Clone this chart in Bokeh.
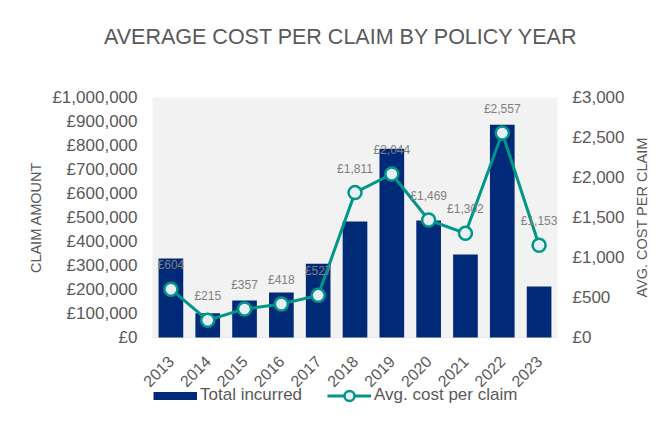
from math import pi
from bokeh.plotting import figure
from bokeh.models import (ColumnDataSource, Range1d, LabelSet, Label, Legend,
                          LegendItem, BoxAnnotation)
from bokeh.core.properties import value
from bokeh.embed import file_html
from bokeh.resources import INLINE

# ---- data ----
years = ["2013", "2014", "2015", "2016", "2017", "2018", "2019", "2020", "2021", "2022", "2023"]
total_incurred = [329000, 101000, 154000, 187000, 307000, 483000, 786000, 488000, 346000, 886000, 212000]
avg_cost = [604, 215, 357, 418, 527, 1811, 2044, 1469, 1302, 2557, 1153]
left_ticks = [0, 100000, 200000, 300000, 400000, 500000, 600000, 700000, 800000, 900000, 1000000]
right_ticks = [0, 500, 1000, 1500, 2000, 2500, 3000]
left_max = 1000000
right_max = 3000

xs = list(range(len(years)))
avg_labels = ["£{:,}".format(v) for v in avg_cost]
src = ColumnDataSource(dict(x=xs, year=years, total=total_incurred, avg=avg_cost, lab=avg_labels))
lsrc = ColumnDataSource(dict(v=left_ticks, t=["£{:,}".format(t) for t in left_ticks]))
rsrc = ColumnDataSource(dict(v=right_ticks, t=["£{:,}".format(t) for t in right_ticks]))

FONT = "Liberation Sans"
TXT = "#595959"
NAVY = "#002A78"
TEAL = "#009688"

# ---- layout (pixels) ----
W, H = 664, 422
PL, PR, PT, PB = 152, 557, 97, 337          # value area inside the canvas
unit = (PR - PL) / len(years)               # px per category
ppv = (PB - PT) / left_max                  # px per left-axis unit

x_range = Range1d(-0.5 - PL / unit, len(years) - 0.5 + (W - PR) / unit)
y_range = Range1d(-(H - PB) / ppv, PB / ppv)
r_scale = right_max / left_max

p = figure(x_range=x_range, y_range=y_range, frame_width=W, frame_height=H,
           x_axis_location=None, y_axis_location=None, min_border=0,
           output_backend="svg", toolbar_location=None,
           background_fill_color="white", border_fill_color="white", outline_line_color=None)
p.extra_y_ranges = {"avg": Range1d(y_range.start * r_scale, y_range.end * r_scale)}
p.xgrid.visible = False
p.ygrid.visible = False

# grey plot area and baseline
p.add_layout(BoxAnnotation(left=-0.5, right=len(years) - 0.5, bottom=0, top=left_max,
                           fill_color="#F2F2F2", fill_alpha=1, line_color=None, level="underlay"))
p.add_layout(BoxAnnotation(left=-0.5, right=len(years) - 0.5, bottom=0, top=0,
                           fill_alpha=0, line_color="#D9D9D9", line_width=1, level="underlay"))

# title
p.add_layout(Label(x=340.5, y=H - 36.5, x_units="screen", y_units="screen",
                   text="AVERAGE COST PER CLAIM BY POLICY YEAR",
                   text_align="center", text_baseline="middle",
                   text_font=FONT, text_font_size="21.5px", text_color=TXT))

# left value axis: tick labels and title
p.add_layout(LabelSet(x=137, x_units="screen", y="v", text="t", source=lsrc,
                      text_align="right", text_baseline="middle",
                      text_font=value(FONT), text_font_size=value("17px"), text_color=TXT))
p.add_layout(Label(x=35, y=H - 217, x_units="screen", y_units="screen", angle=pi / 2,
                   text="CLAIM AMOUNT", text_align="center", text_baseline="middle",
                   text_font=FONT, text_font_size="14.5px", text_color=TXT))

# right value axis: tick labels and title
p.add_layout(LabelSet(x=572, x_units="screen", y="v", y_range_name="avg", text="t", source=rsrc,
                      text_align="left", text_baseline="middle",
                      text_font=value(FONT), text_font_size=value("17px"), text_color=TXT))
p.add_layout(Label(x=641, y=H - 217, x_units="screen", y_units="screen", angle=pi / 2,
                   text="AVG. COST PER CLAIM", text_align="center", text_baseline="middle",
                   text_font=FONT, text_font_size="14.5px", text_color=TXT))

# marks
r_bar = p.vbar(x="x", top="total", width=0.67, source=src, fill_color=NAVY, line_color=None)
r_line = p.line(x="x", y="avg", source=src, y_range_name="avg", line_color=TEAL, line_width=3)
r_pts = p.scatter(x="x", y="avg", source=src, y_range_name="avg", size=13,
                  fill_color="#E9F0F5", line_color=TEAL, line_width=2.5)
# legend swatch for the bars: a one-point thick stroke (draws nothing in the plot)
r_swatch = p.line(x=xs[:1], y=total_incurred[:1], line_color=NAVY, line_width=8, line_cap="butt")

# value labels
p.add_layout(LabelSet(x="x", y="avg", text="lab", source=src, y_range_name="avg",
                      y_offset=24, text_align="center", text_baseline="middle",
                      text_font=value(FONT), text_font_size=value("12px"),
                      text_color="#808080"))

# year labels, rotated 45 degrees under each bar
p.add_layout(LabelSet(x="x", y=0, text="year", source=src,
                      angle=pi / 4, y_offset=-21, text_align="right", text_baseline="middle",
                      text_font=value(FONT), text_font_size=value("16px"), text_color=TXT))

legend = Legend(items=[LegendItem(label="Total incurred", renderers=[r_swatch]),
                       LegendItem(label="Avg. cost per claim", renderers=[r_line, r_pts])],
                orientation="horizontal", location=(153, 14.5),
                border_line_color=None, background_fill_alpha=0, padding=0, margin=0,
                glyph_width=44, glyph_height=25, label_standoff=3, spacing=25,
                label_text_font=FONT, label_text_font_size="17px", label_text_color=TXT)
p.add_layout(legend)

open("out.html", "w").write(file_html(p, INLINE))
